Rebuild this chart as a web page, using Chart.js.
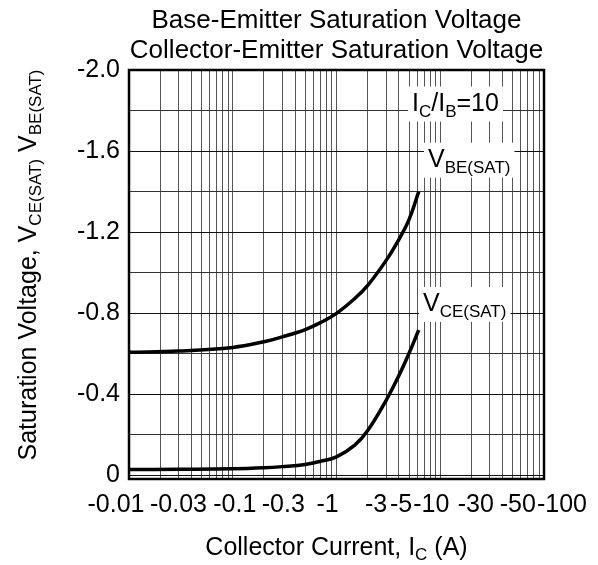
<!DOCTYPE html>
<html>
<head>
<meta charset="utf-8">
<script src="https://cdn.jsdelivr.net/npm/chart.js@4.4.0/dist/chart.umd.min.js"></script>
<style>
  html, body { margin: 0; padding: 0; background: #fff; }
  #chart { display: block; }
</style>
</head>
<body>
<canvas id="chart" width="598" height="565"></canvas>
<script>
// collector current magnitude (A)
const currents = [0.01, 0.03, 0.1, 0.2, 0.3, 0.5, 0.7, 1, 1.5, 2, 3, 4, 5, 6.2];
const vbeSat = [-0.608, -0.614, -0.632, -0.66, -0.684, -0.72, -0.754, -0.80, -0.873, -0.938, -1.06, -1.165, -1.262, -1.40];
const vceSat = [-0.03, -0.031, -0.033, -0.038, -0.044, -0.055, -0.07, -0.092, -0.15, -0.222, -0.37, -0.494, -0.603, -0.718];

const xTickValues = [0.01, 0.03, 0.1, 0.3, 1, 3, 5, 10, 30, 50, 100];
const xTickLabels = ['-0.01', '-0.03', '-0.1', '-0.3', '-1', '-3', '-5', '-10', '-30', '-50', '-100'];
const yGridValues = [-2.0, -1.8, -1.6, -1.4, -1.2, -1.0, -0.8, -0.6, -0.4, -0.2, 0];
const yTickValues = [-2.0, -1.6, -1.2, -0.8, -0.4, 0];
const yTickLabels = ['-2.0', '-1.6', '-1.2', '-0.8', '-0.4', '0'];

// the printed labels are hand-spaced, not centred on their grid line
const xLabelNudge = [-13, 0, 2, 1, -9, -10, -8, -9, -14, 5, 18];

const FONT = '"Liberation Sans", Arial, Helvetica, sans-serif';

function logGrid() {
    const out = [];
    for (let e = -2; e <= 1; e++) {
        for (let m = 1; m <= 9; m++) out.push(Number((m * Math.pow(10, e)).toPrecision(3)));
    }
    out.push(100);
    return out;
}

function findLabel(v) {
    const i = yTickValues.findIndex(t => Math.abs(t - v) < 1e-6);
    return i < 0 ? '' : yTickLabels[i];
}

// text with subscripts: parts = [[text, isSub], ...]
function richWidth(ctx, parts, size, subSize) {
    let w = 0;
    parts.forEach(p => {
        ctx.font = (p[1] ? subSize : size) + 'px ' + FONT;
        w += ctx.measureText(p[0]).width;
    });
    return w;
}

function drawRich(ctx, parts, x, y, size, subSize, subDrop) {
    let cx = x;
    ctx.textAlign = 'left';
    ctx.textBaseline = 'alphabetic';
    parts.forEach(p => {
        ctx.font = (p[1] ? subSize : size) + 'px ' + FONT;
        ctx.fillText(p[0], cx, p[1] ? y + subDrop : y);
        cx += ctx.measureText(p[0]).width;
    });
}

const notes = [
    {parts: [['I', 0], ['C', 1], ['/I', 0], ['B', 1], ['=10', 0]], x: 5.35, y: -1.80},
    {parts: [['V', 0], ['BE(SAT)', 1]], x: 7.62, y: -1.523},
    {parts: [['V', 0], ['CE(SAT)', 1]], x: 6.82, y: -0.812}
];

const decorations = {
    id: 'decorations',
    afterDraw(chart) {
        const ctx = chart.ctx;
        const a = chart.chartArea;
        const xs = chart.scales.x, ys = chart.scales.y;
        ctx.save();
        ctx.fillStyle = '#000';

        // curve labels on white boxes
        notes.forEach(n => {
            const px = xs.getPixelForValue(n.x);
            const py = ys.getPixelForValue(n.y);
            const w = richWidth(ctx, n.parts, 25, 17);
            ctx.fillStyle = '#fff';
            ctx.fillRect(px - 4, py - 24, w + 8, 35);
            ctx.fillStyle = '#000';
            drawRich(ctx, n.parts, px, py, 25, 17, 6);
        });

        // frame
        ctx.strokeStyle = '#000';
        ctx.lineWidth = 2.5;
        ctx.strokeRect(a.left, a.top, a.right - a.left, a.bottom - a.top);

        // title
        const cx = (a.left + a.right) / 2;
        ctx.font = '26px ' + FONT;
        ctx.textAlign = 'center';
        ctx.textBaseline = 'alphabetic';
        ctx.fillText('Base-Emitter Saturation Voltage', cx, 28);
        ctx.fillText('Collector-Emitter Saturation Voltage', cx, 58);

        // x tick labels
        ctx.font = '25px ' + FONT;
        xTickValues.forEach((v, i) => {
            ctx.fillText(xTickLabels[i], xs.getPixelForValue(v) + xLabelNudge[i], a.bottom + 33);
        });

        // x axis title
        const xt = [['Collector Current, I', 0], ['C', 1], [' (A)', 0]];
        const xw = richWidth(ctx, xt, 25, 17);
        drawRich(ctx, xt, cx - xw / 2, a.bottom + 76, 25, 17, 5);

        // y axis title
        const yt = [['Saturation Voltage, V', 0], ['CE(SAT)', 1], [' V', 0], ['BE(SAT)', 1]];
        const yw = richWidth(ctx, yt, 25, 17);
        ctx.translate(36, 265);
        ctx.rotate(-Math.PI / 2);
        drawRich(ctx, yt, -yw / 2, 0, 25, 17, 5);
        ctx.restore();
    }
};

new Chart(document.getElementById('chart'), {
    type: 'line',
    data: {
        datasets: [
            {
                label: 'VBE(SAT)',
                data: currents.map((c, i) => ({x: c, y: vbeSat[i]})),
                borderColor: '#000',
                borderWidth: 3.5,
                pointRadius: 0,
                tension: 0.4
            },
            {
                label: 'VCE(SAT)',
                data: currents.map((c, i) => ({x: c, y: vceSat[i]})),
                borderColor: '#000',
                borderWidth: 3.5,
                pointRadius: 0,
                tension: 0.4
            }
        ]
    },
    options: {
        responsive: false,
        animation: false,
        layout: {padding: {top: 70, right: 54, left: 0, bottom: 0}},
        plugins: {legend: {display: false}, tooltip: {enabled: false}, title: {display: false}},
        scales: {
            x: {
                type: 'logarithmic',
                min: 0.01,
                max: 100,
                afterBuildTicks: s => { s.ticks = logGrid().map(v => ({value: v})); },
                afterFit: s => { s.height = 86; },
                ticks: {display: false, autoSkip: false},
                grid: {color: '#555', lineWidth: 1, drawTicks: false},
                border: {display: false}
            },
            y: {
                type: 'linear',
                reverse: true,
                min: -2.0,
                max: 0.017,
                afterBuildTicks: s => { s.ticks = yGridValues.map(v => ({value: v})); },
                afterFit: s => { s.width = 129; },
                ticks: {
                    autoSkip: false,
                    padding: 9,
                    color: '#000',
                    font: {family: FONT, size: 25},
                    callback: v => findLabel(v)
                },
                grid: {
                    color: c => findLabel(c.tick.value) ? '#111' : '#333',
                    lineWidth: 1,
                    drawTicks: false
                },
                border: {display: false}
            }
        }
    },
    plugins: [decorations]
});
</script>
</body>
</html>
